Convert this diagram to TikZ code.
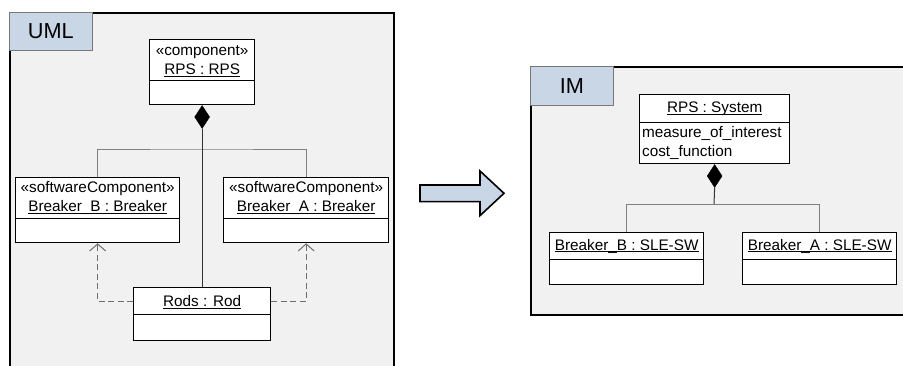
\documentclass[tikz,border=0pt]{standalone}
\usepackage{fontspec}
\setmainfont{Liberation Sans}
\usetikzlibrary{arrows.meta,shapes.geometric}

\definecolor{framegray}{RGB}{241,241,241}
\definecolor{tabblue}{RGB}{201,214,230}
\definecolor{tabedge}{RGB}{120,120,120}
\definecolor{linegray}{RGB}{128,128,128}
\definecolor{stemgray}{RGB}{50,50,50}
\definecolor{depgray}{RGB}{110,110,110}

% underlined instance name with a fixed rule position
\newcommand{\uname}[1]{\setbox0\hbox{#1}\rlap{\smash{\rule[-2.2pt]{\wd0}{0.9pt}}}\box0}
\newcommand{\boxfont}{\fontsize{15.3}{19.5}\selectfont}
\newcommand{\tabfont}{\fontsize{21.7}{24}\selectfont}

\tikzset{
  frame/.style={draw=black, line width=1.8pt, fill=framegray, anchor=north west, inner sep=0},
  tabbox/.style={draw=tabedge, line width=0.8pt, fill=tabblue, anchor=north west, inner sep=0, font=\tabfont},
  objhead/.style={draw=black, line width=1.3pt, fill=white, anchor=north west, inner sep=0, align=center, font=\boxfont},
  objbody/.style={draw=black, line width=1.3pt, fill=white, anchor=north west, inner sep=0},
  comp/.style={diamond, draw=black, fill=black, inner sep=0, minimum width=15pt, minimum height=23pt, anchor=north},
  branch/.style={draw=linegray, line width=0.9pt},
  stem/.style={draw=stemgray, line width=1pt},
  dep/.style={draw=depgray, line width=1pt, dash pattern=on 6pt off 3.5pt,
              -{Straight Barb[length=7pt,width=16pt,line width=1pt]}},
  blockarrow/.style={draw=black, line width=1.6pt, fill=tabblue, line join=miter}
}

\begin{document}
\begin{tikzpicture}[x=1pt,y=-1pt]
\useasboundingbox (0,0) rectangle (903,365);
\clip (0,0) rectangle (903,365);

% ---------------- UML side ----------------
\node[frame, minimum width=384pt, minimum height=362pt] (frameU) at (9,12) {};
\node[tabbox, minimum width=83pt, minimum height=38pt] (tabU) at (9,12) {UML};

\node[objhead, minimum width=105pt, minimum height=41pt] (rpsU) at (149,39)
  {«component»\\\uname{RPS : RPS}};
\node[objbody, minimum width=105pt, minimum height=24pt] (rpsUb) at (149,80) {};

\node[objhead, minimum width=164pt, minimum height=41pt] (bbU) at (15,177)
  {«softwareComponent»\\\uname{Breaker\_B : Breaker}};
\node[objbody, minimum width=164pt, minimum height=24pt] (bbUb) at (15,218) {};

\node[objhead, minimum width=165pt, minimum height=41pt] (baU) at (223,177)
  {«softwareComponent»\\\uname{Breaker\_A : Breaker}};
\node[objbody, minimum width=165pt, minimum height=24pt] (baUb) at (223,218) {};

\node[objhead, minimum width=137pt, minimum height=27pt] (rodU) at (133,287)
  {\uname{Rods : Rod}};
\node[objbody, minimum width=137pt, minimum height=26pt] (rodUb) at (133,314) {};

% composition
\node[comp] (dmU) at (rpsUb.south) {};
\coordinate (jU) at (201.5,149);
\draw[branch] (bbU.north) |- (jU) -| (baU.north);
\draw[stem] (dmU.south) -- (rodU.north);

% dependencies
\draw[dep] (rodU.west) -| (bbUb.south);
\draw[dep] (rodU.east) -| (baUb.south);

% ---------------- transformation arrow ----------------
\draw[blockarrow] (420,185) -- (480,185) -- (480,171) -- (504,193.3)
  -- (480,215.6) -- (480,201.6) -- (420,201.6) -- cycle;

% ---------------- IM side ----------------
\node[frame, minimum width=380pt, minimum height=248pt] (frameI) at (530,66) {};
\node[tabbox, minimum width=83pt, minimum height=39pt] (tabI) at (530,66) {IM};

\node[objhead, minimum width=150pt, minimum height=28pt] (rpsI) at (639,94)
  {\uname{RPS : System}};
\node[objbody, minimum width=150pt, minimum height=41pt, text width=145pt,
      inner xsep=2.5pt, align=left, font=\boxfont] (rpsIb) at (639,122)
  {measure\_of\_interest\\cost\_function};

\node[objhead, minimum width=154pt, minimum height=27pt] (bbI) at (549,232)
  {\uname{Breaker\_B : SLE-SW}};
\node[objbody, minimum width=154pt, minimum height=25pt] (bbIb) at (549,259) {};

\node[objhead, minimum width=154pt, minimum height=27pt] (baI) at (742,232)
  {\uname{Breaker\_A : SLE-SW}};
\node[objbody, minimum width=154pt, minimum height=25pt] (baIb) at (742,259) {};

\node[comp] (dmI) at (rpsIb.south) {};
\coordinate (jI) at (714,204.3);
\draw[stem] (dmI.south) -- (jI);
\draw[branch] (bbI.north) |- (jI) -| (baI.north);
\end{tikzpicture}
\end{document}
